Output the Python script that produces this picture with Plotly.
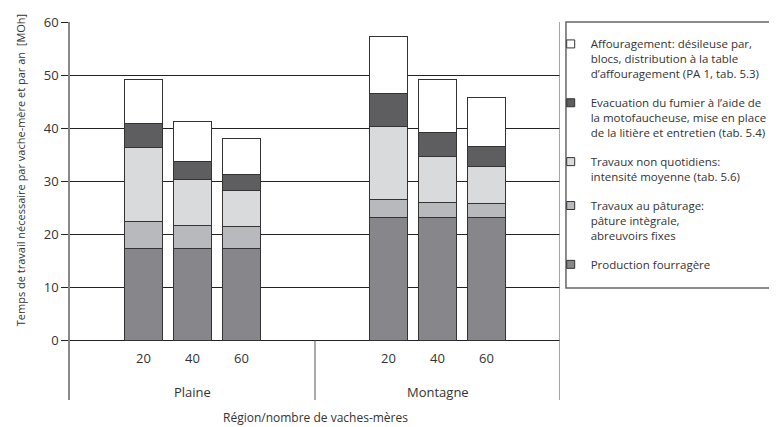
import plotly.graph_objects as go

# Données (MOh par vache-mère et par an)
regions = ["Plaine", "Montagne"]
effectifs = [20, 40, 60]

production = [17.4, 17.4, 17.4, 23.1, 23.1, 23.1]
paturage = [5.0, 4.3, 4.0, 3.4, 2.9, 2.8]
non_quotidiens = [14.0, 8.7, 6.8, 13.8, 8.7, 6.8]
fumier = [4.5, 3.3, 3.05, 6.2, 4.5, 3.9]
affouragement = [8.2, 7.6, 6.8, 10.8, 9.9, 9.1]

series = [
    ("Production fourragère", production, "#87878b"),
    ("Travaux au pâturage:<br>pâture intègrale,<br>abreuvoirs fixes", paturage, "#b8b9bc"),
    ("Travaux non quotidiens:<br>intensité moyenne (tab. 5.6)", non_quotidiens, "#d9dadc"),
    ("Evacuation du fumier à l’aide de<br>la motofaucheuse, mise en place<br>de la litière et entretien (tab. 5.4)", fumier, "#5e5e60"),
    ("Affouragement: désileuse par,<br>blocs, distribution à la table<br>d’affouragement (PA 1, tab. 5.3)", affouragement, "#ffffff"),
]

FONT = "Open Sans"
TXT = "#333333"

# position des barres: chaque région occupe 5 unités
x_pos = [5 * g + 1.5 + i for g in range(len(regions)) for i in range(len(effectifs))]

fig = go.Figure()
for k, (name, vals, col) in enumerate(series):
    fig.add_trace(go.Bar(
        x=x_pos, y=vals, name=name, width=0.76, showlegend=False,
        marker=dict(color=col, line=dict(color="#333333", width=1)),
    ))
    # entrée de légende avec un petit carré
    fig.add_trace(go.Scatter(
        x=[None], y=[None], mode="markers", name=name,
        marker=dict(symbol="square", size=8, color=col, line=dict(color="#333333", width=1)),
        legendgroup=str(k), legendrank=len(series) - k,
    ))

annotations = []
for g, reg in enumerate(regions):
    for i, n in enumerate(effectifs):
        annotations.append(dict(x=5 * g + 1.5 + i, y=-3.2, text=str(n), showarrow=False,
                                font=dict(size=13, color=TXT)))
    annotations.append(dict(x=5 * g + 2.5, y=-9.6, text=reg, showarrow=False,
                            font=dict(size=13, color=TXT)))

annotations.append(dict(x=0.5, y=-0.045, xref="paper", yref="paper", yanchor="middle",
                        text="Région/nombre de vaches-mères", showarrow=False,
                        font=dict(size=12, color=TXT)))
annotations.append(dict(x=-0.102, y=0.608, xref="paper", yref="paper", textangle=-90,
                        xanchor="center", yanchor="middle",
                        text="Temps de travail nécessaire par vache-mère et par an  [MOh]",
                        showarrow=False, font=dict(size=11, color=TXT)))

shapes = [
    # séparateurs de régions sous l'axe
    dict(type="line", x0=5, x1=5, y0=0, y1=-11.2, line=dict(color="#555555", width=1)),
    # bord droit
    dict(type="line", x0=10, x1=10, y0=-11.2, y1=60, line=dict(color="#888888", width=1.5)),
    # cadre de la légende
    dict(type="rect", xref="paper", yref="paper", x0=1.0122, x1=1.4408, y0=0.296, y1=1.0,
         line=dict(color="#666666", width=1.5), fillcolor="rgba(0,0,0,0)"),
]

# la page ajoute une marge de 8 px: la figure est réduite d'autant
fig.update_layout(
    barmode="stack",
    width=769, height=419,
    margin=dict(l=62, r=217, t=14, b=27, autoexpand=False),
    paper_bgcolor="white", plot_bgcolor="white",
    font=dict(family=FONT, color=TXT),
    showlegend=True,
    legend=dict(x=0.981, y=0.979, xanchor="left", yanchor="top",
                traceorder="grouped", tracegroupgap=11,
                font=dict(size=11.5, color=TXT), bgcolor="rgba(0,0,0,0)",
                borderwidth=0, valign="top"),
    annotations=annotations,
    shapes=shapes,
)
fig.update_xaxes(range=[0, 10], showticklabels=False, showgrid=False, zeroline=False,
                 showline=False, ticks="")
fig.update_yaxes(range=[-11.2, 60], tickvals=[0, 10, 20, 30, 40, 50, 60],
                 showgrid=True, gridcolor="#222222", gridwidth=1, zeroline=False,
                 showline=True, linecolor="#888888", linewidth=1.5,
                 ticks="outside", ticklen=7, tickcolor="#222222",
                 tickfont=dict(size=13, color=TXT))

fig.write_html("out.html")
